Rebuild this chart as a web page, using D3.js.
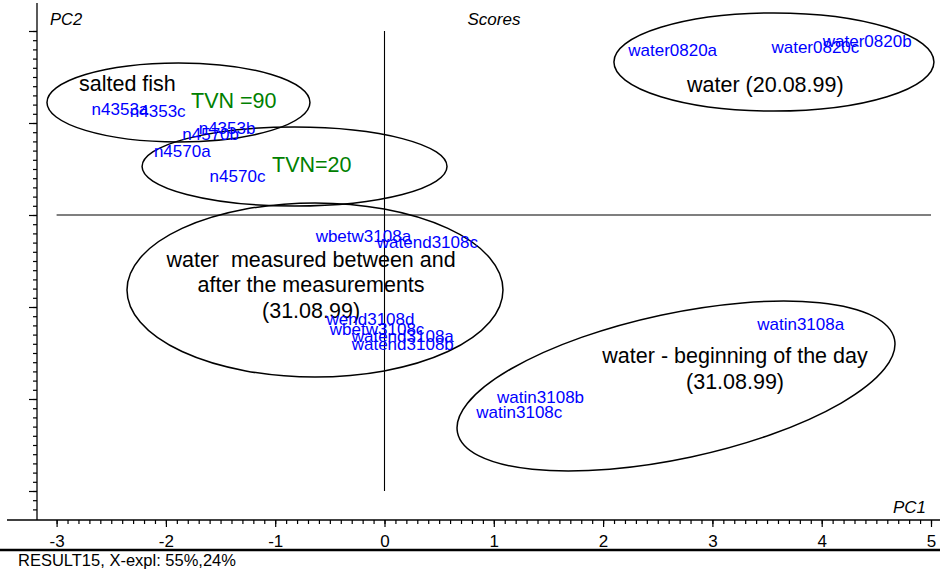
<!DOCTYPE html>
<html>
<head>
<meta charset="utf-8">
<script src="https://cdn.jsdelivr.net/npm/d3@7"></script>
<style>
  body { margin: 0; background: #fff; }
  svg { display: block; font-family: "Liberation Sans", Arial, sans-serif; }
  .tick text { font-size: 17px; fill: #000; }
  .note { white-space: pre; }
</style>
</head>
<body>
<div id="chart"></div>
<script>
// score labels: name, PC1, PC2
var names = ["water0820a", "water0820c", "water0820b",
    "n4353a", "n4353c", "n4353b", "n4570b", "n4570a", "n4570c",
    "wbetw3108a", "watend3108c", "wend3108d", "wbetw3108c", "watend3108a", "watend3108b",
    "watin3108a", "watin3108b", "watin3108c"];
var pc1 = [2.23, 3.54, 4.01,
    -2.68, -2.33, -1.70, -1.85, -2.11, -1.60,
    -0.63, -0.07, -0.53, -0.50, -0.30, -0.30,
    3.41, 1.03, 0.84];
var pc2 = [1.79, 1.83, 1.89,
    1.15, 1.13, 0.94, 0.88, 0.69, 0.42,
    -0.23, -0.29, -1.13, -1.24, -1.32, -1.40,
    -1.19, -1.98, -2.14];

// group ellipses (PC units), angle in degrees
var ellCx = [-1.885, -0.823, 3.563, -0.636, 2.667];
var ellCy = [1.223, 0.527, 1.663, -0.815, -1.859];
var ellRx = [1.203, 1.395, 1.464, 1.720, 2.044];
var ellRy = [0.429, 0.429, 0.533, 0.946, 0.788];
var ellAngle = [0, 0, 0, 0, -12.1];

// annotations
var noteText = [["salted fish"], ["TVN =90"], ["TVN=20"], ["water (20.08.99)"],
    ["water  measured between and", "after the measurements", "(31.08.99)"],
    ["water - beginning of the day", "(31.08.99)"]];
var noteX = [-2.795, -1.770, -1.029, 2.768, -0.672, 3.207];
var noteY = [1.348, 1.163, 0.467, 1.337, -0.565, -1.609];
var noteAnchor = ["start", "start", "start", "start", "middle", "middle"];
var noteColor = ["#000", "#008000", "#008000", "#000", "#000", "#000"];

var xMajor = [-3, -2, -1, 0, 1, 2, 3, 4, 5];
var yMajor = [-3, -2, -1, 0, 1, 2];

var width = 940, height = 571;

var svg = d3.select("#chart").append("svg")
    .attr("width", width)
    .attr("height", height);

var x = d3.scaleLinear().domain([-3, 5]).range([56.6, 931]);
var y = d3.scaleLinear().domain([-3, 2]).range([491, 31]);

var axisY = 520, axisX = 37;

// zero lines
svg.append("line")
    .attr("x1", x(-3)).attr("x2", x(5))
    .attr("y1", y(0)).attr("y2", y(0))
    .attr("stroke", "#000").attr("stroke-width", 1.1);
svg.append("line")
    .attr("x1", x(0)).attr("x2", x(0))
    .attr("y1", y(2)).attr("y2", y(-3))
    .attr("stroke", "#000").attr("stroke-width", 1.1);

// x axis
var xMinor = d3.range(-30, 51).map(function (d) { return d / 10; });
var gx = svg.append("g").attr("transform", "translate(0," + axisY + ")");
gx.append("g").call(d3.axisBottom(x).tickValues(xMinor).tickSize(4)
    .tickFormat(function () { return ""; }));
gx.append("g").call(d3.axisBottom(x).tickValues(xMajor).tickSize(7).tickPadding(8)
    .tickFormat(function (d) { return d < 0 ? "-" + (-d) : String(d); }));
gx.selectAll(".domain").remove();
gx.selectAll(".tick line").attr("stroke", "#000").attr("stroke-width", 1.2);
svg.append("line")
    .attr("x1", 7).attr("x2", width)
    .attr("y1", axisY).attr("y2", axisY)
    .attr("stroke", "#000").attr("stroke-width", 1.3);

// y axis
var yMinor = d3.range(-32, 21).map(function (d) { return d / 10; });
var gy = svg.append("g").attr("transform", "translate(" + axisX + ",0)");
gy.append("g").call(d3.axisLeft(y).tickValues(yMinor).tickSize(4)
    .tickFormat(function () { return ""; }));
gy.append("g").call(d3.axisLeft(y).tickValues(yMajor).tickSize(8)
    .tickFormat(function () { return ""; }));
gy.selectAll(".domain").remove();
gy.selectAll(".tick line").attr("stroke", "#000").attr("stroke-width", 1.2);
svg.append("line")
    .attr("x1", axisX).attr("x2", axisX)
    .attr("y1", 3).attr("y2", axisY)
    .attr("stroke", "#000").attr("stroke-width", 1.3);

// axis titles
svg.append("text").attr("x", 50).attr("y", 25)
    .attr("font-size", 16.5).attr("font-style", "italic").text("PC2");
svg.append("text").attr("x", 926).attr("y", 513).attr("text-anchor", "end")
    .attr("font-size", 17).attr("font-style", "italic").text("PC1");
svg.append("text").attr("x", 494).attr("y", 25).attr("text-anchor", "middle")
    .attr("font-size", 17).attr("font-style", "italic").text("Scores");

// footer
svg.append("line")
    .attr("x1", 0).attr("x2", width)
    .attr("y1", 550).attr("y2", 550)
    .attr("stroke", "#000").attr("stroke-width", 2.4);
svg.append("text").attr("x", 18).attr("y", 566)
    .attr("font-size", 16.5).text("RESULT15, X-expl: 55%,24%");

// ellipses
var kx = x(1) - x(0), ky = y(0) - y(1);
svg.append("g").selectAll("ellipse")
    .data(ellCx)
    .enter().append("ellipse")
    .attr("transform", function (d, i) {
        return "translate(" + x(d) + "," + y(ellCy[i]) + ") rotate(" + ellAngle[i] + ")";
    })
    .attr("rx", function (d, i) { return ellRx[i] * kx; })
    .attr("ry", function (d, i) { return ellRy[i] * ky; })
    .attr("fill", "none")
    .attr("stroke", "#000")
    .attr("stroke-width", 1.5);

// annotations
var notes = svg.append("g").selectAll("text")
    .data(noteText)
    .enter().append("text")
    .attr("class", "note")
    .attr("font-size", 21.5)
    .attr("fill", function (d, i) { return noteColor[i]; })
    .attr("text-anchor", function (d, i) { return noteAnchor[i]; })
    .attr("y", function (d, i) { return y(noteY[i]); });
notes.each(function (lines, i) {
    d3.select(this).selectAll("tspan")
        .data(lines)
        .enter().append("tspan")
        .attr("x", x(noteX[i]))
        .attr("dy", function (d, j) { return j === 0 ? 0 : 25.5; })
        .text(function (d) { return d; });
});

// score labels
svg.append("g").selectAll("text")
    .data(names)
    .enter().append("text")
    .attr("x", function (d, i) { return x(pc1[i]); })
    .attr("y", function (d, i) { return y(pc2[i]); })
    .attr("dy", "0.35em")
    .attr("font-size", 17)
    .attr("fill", "#0000ff")
    .text(function (d) { return d; });
</script>
</body>
</html>
